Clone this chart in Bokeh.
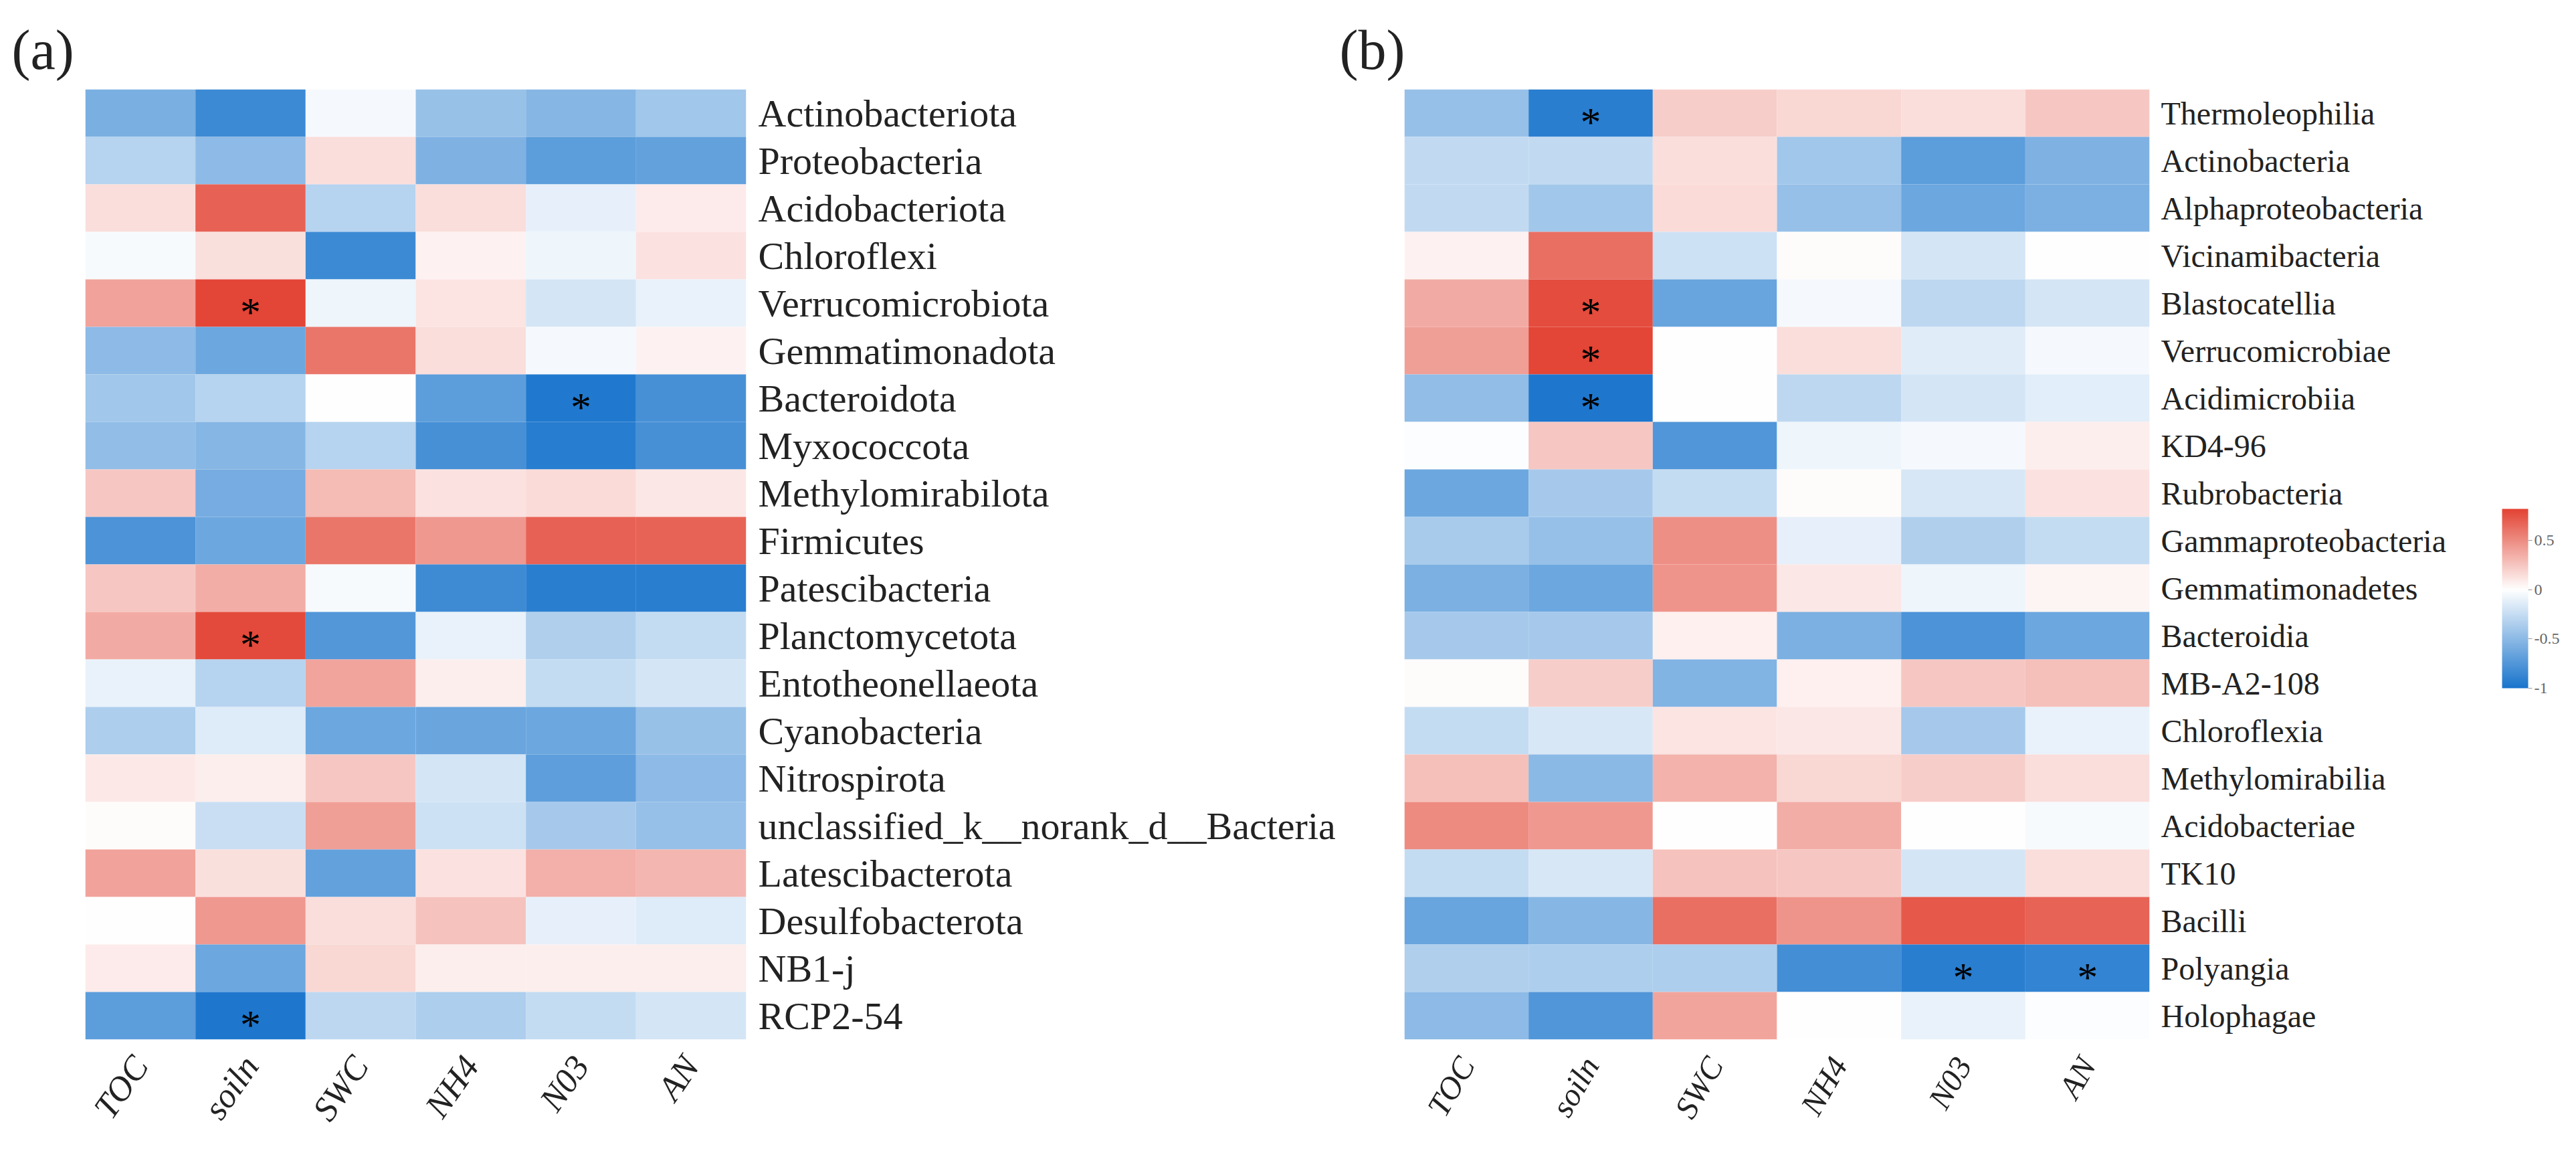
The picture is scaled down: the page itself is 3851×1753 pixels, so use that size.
import math
from bokeh.plotting import figure
from bokeh.models import (LinearColorMapper, ColorBar, FixedTicker, CustomJSTickFormatter,
                          ColumnDataSource, FactorRange)
from bokeh.layouts import row
from bokeh.embed import file_html
from bokeh.resources import INLINE
from bokeh.core.properties import value

# ---------------- data ----------------
cols = ["TOC", "soiln", "SWC", "NH4", "N03", "AN"]

rows_a = ["Actinobacteriota", "Proteobacteria", "Acidobacteriota", "Chloroflexi",
          "Verrucomicrobiota", "Gemmatimonadota", "Bacteroidota", "Myxococcota",
          "Methylomirabilota", "Firmicutes", "Patescibacteria", "Planctomycetota",
          "Entotheonellaeota", "Cyanobacteria", "Nitrospirota",
          "unclassified_k__norank_d__Bacteria", "Latescibacterota", "Desulfobacterota",
          "NB1-j", "RCP2-54"]

a_TOC = [-0.58, -0.32, 0.15, -0.04, 0.40, -0.50, -0.41, -0.48, 0.24, -0.77,
         0.25, 0.36, -0.10, -0.36, 0.09, 0.01, 0.40, 0.00, 0.08, -0.71]
a_soiln = [-0.85, -0.50, 0.68, 0.13, 0.80, -0.64, -0.31, -0.53, -0.60, -0.64,
           0.35, 0.78, -0.31, -0.15, 0.07, -0.24, 0.13, 0.44, -0.64, -0.98]
a_SWC = [-0.05, 0.14, -0.32, -0.85, -0.07, 0.59, 0.00, -0.31, 0.29, 0.59,
         -0.04, -0.75, 0.39, -0.64, 0.24, 0.41, -0.67, 0.14, 0.17, -0.29]
a_NH4 = [-0.45, -0.56, 0.15, 0.05, 0.11, 0.14, -0.71, -0.79, 0.12, 0.44,
         -0.84, -0.10, 0.07, -0.65, -0.19, -0.22, 0.12, 0.26, 0.07, -0.36]
a_N03 = [-0.53, -0.71, -0.11, -0.08, -0.19, -0.05, -0.97, -0.93, 0.16, 0.68,
         -0.92, -0.34, -0.26, -0.64, -0.70, -0.39, 0.34, -0.11, 0.07, -0.26]
a_AN = [-0.41, -0.67, 0.08, 0.12, -0.10, 0.05, -0.79, -0.79, 0.10, 0.67,
        -0.92, -0.26, -0.19, -0.45, -0.50, -0.46, 0.31, -0.15, 0.07, -0.19]

star_a_rows = ["Verrucomicrobiota", "Bacteroidota", "Planctomycetota", "RCP2-54"]
star_a_cols = ["soiln", "N03", "soiln", "soiln"]

rows_b = ["Thermoleophilia", "Actinobacteria", "Alphaproteobacteria", "Vicinamibacteria",
          "Blastocatellia", "Verrucomicrobiae", "Acidimicrobiia", "KD4-96", "Rubrobacteria",
          "Gammaproteobacteria", "Gemmatimonadetes", "Bacteroidia", "MB-A2-108",
          "Chloroflexia", "Methylomirabilia", "Acidobacteriae", "TK10", "Bacilli",
          "Polyangia", "Holophagae"]

b_TOC = [-0.46, -0.27, -0.27, 0.05, 0.36, 0.41, -0.48, -0.02, -0.64, -0.38,
         -0.57, -0.39, 0.01, -0.26, 0.27, 0.50, -0.26, -0.66, -0.34, -0.50]
b_soiln = [-0.92, -0.27, -0.41, 0.62, 0.77, 0.80, -0.98, 0.25, -0.39, -0.46,
           -0.64, -0.39, 0.21, -0.17, -0.51, 0.44, -0.17, -0.53, -0.36, -0.76]
b_SWC = [0.21, 0.15, 0.16, -0.22, -0.66, -0.01, 0.00, -0.76, -0.26, 0.48,
         0.46, 0.06, -0.55, 0.11, 0.33, 0.00, 0.26, 0.62, -0.36, 0.39]
b_NH4 = [0.17, -0.41, -0.46, 0.01, -0.05, 0.15, -0.29, -0.07, 0.01, -0.11,
         0.10, -0.57, 0.06, 0.10, 0.17, 0.35, 0.24, 0.46, -0.82, 0.00]
b_N03 = [0.15, -0.71, -0.64, -0.19, -0.29, -0.14, -0.19, -0.05, -0.17, -0.34,
         -0.08, -0.78, 0.24, -0.39, 0.21, 0.00, -0.19, 0.72, -0.92, -0.10]
b_AN = [0.24, -0.56, -0.57, -0.01, -0.19, -0.05, -0.13, 0.07, 0.12, -0.26,
        0.04, -0.64, 0.27, -0.10, 0.15, -0.04, 0.15, 0.67, -0.89, -0.02]

star_b_rows = ["Thermoleophilia", "Blastocatellia", "Verrucomicrobiae", "Acidimicrobiia",
               "Polyangia", "Polyangia"]
star_b_cols = ["soiln", "soiln", "soiln", "soiln", "N03", "AN"]

cb_ticks = [-1, -0.5, 0, 0.5]
cb_low, cb_high = -1.0, 0.82

# ---------------- colours ----------------
BLUE = (24, 116, 204)
RED = (226, 66, 50)


def make_palette(n=182):
    pal = []
    for i in range(n):
        v = cb_low + (cb_high - cb_low) * (i + 0.5) / n
        if v < 0:
            t, c = min(1.0, -v / abs(cb_low)), BLUE
        else:
            t, c = min(1.0, v / cb_high), RED
        rgb = tuple(int(round(255 + (ci - 255) * t)) for ci in c)
        pal.append("#%02x%02x%02x" % rgb)
    return pal


mapper = LinearColorMapper(palette=make_palette(), low=cb_low, high=cb_high)

SERIF = "Liberation Serif"
H = 1737
TOP = 133
FRAME_H = 1420


def heat(rows, columns, star_rows, star_cols, title, width, left, frame_w,
         title_offset, ylab_fs, ylab_standoff, xlab_fs, angle):
    p = figure(width=width, height=H,
               x_range=FactorRange(*cols), y_range=FactorRange(*rows[::-1]),
               output_backend="svg", toolbar_location=None,
               x_axis_location="below", y_axis_location="right",
               min_border_left=left, min_border_right=width - left - frame_w,
               min_border_top=TOP, min_border_bottom=H - TOP - FRAME_H,
               title=title)
    xs, ys, vs = [], [], []
    for c, colvals in zip(cols, columns):
        for r, v in zip(rows, colvals):
            xs.append(c)
            ys.append(r)
            vs.append(v)
    src = ColumnDataSource(dict(x=xs, y=ys, v=vs))
    p.rect(x="x", y="y", width=1, height=1, source=src,
           fill_color={"field": "v", "transform": mapper}, line_color=None)
    p.text(x=star_cols, y=star_rows, text=["*"] * len(star_rows),
           text_font=value(SERIF), text_font_size="62px", text_color="#000000",
           text_align="center", text_baseline="middle", y_offset=13)

    p.grid.visible = False
    p.outline_line_color = None
    p.background_fill_color = "white"
    p.border_fill_color = "white"

    for ax in (p.xaxis[0], p.yaxis[0]):
        ax.axis_line_color = None
        ax.major_tick_line_color = None
        ax.minor_tick_line_color = None
        ax.major_tick_in = 0
        ax.major_tick_out = 0
        ax.major_label_text_font = SERIF
        ax.major_label_text_color = "#222222"
    p.yaxis.major_label_text_font_size = "%dpx" % ylab_fs
    p.yaxis.major_label_standoff = ylab_standoff
    p.xaxis.major_label_text_font_size = "%dpx" % xlab_fs
    p.xaxis.major_label_text_font_style = "italic"
    p.xaxis.major_label_orientation = math.radians(angle)
    p.xaxis.major_label_standoff = 30

    p.title.text_font = SERIF
    p.title.text_font_size = "84px"
    p.title.text_font_style = "normal"
    p.title.text_color = "#222222"
    p.title.align = "left"
    p.title.offset = title_offset
    p.title.standoff = 26
    return p


pa = heat(rows_a, [a_TOC, a_soiln, a_SWC, a_NH4, a_N03, a_AN], star_a_rows, star_a_cols,
          "(a)", width=2000, left=127, frame_w=988, title_offset=-110,
          ylab_fs=58, ylab_standoff=18, xlab_fs=52, angle=55)
pb = heat(rows_b, [b_TOC, b_soiln, b_SWC, b_NH4, b_N03, b_AN], star_b_rows, star_b_cols,
          "(b)", width=1692, left=99, frame_w=1114, title_offset=-97,
          ylab_fs=48, ylab_standoff=17, xlab_fs=48, angle=60)

pc = figure(width=143, height=H, output_backend="svg", toolbar_location=None,
            min_border=0, x_axis_location=None, y_axis_location=None)
pc.grid.visible = False
pc.outline_line_color = None
cb = ColorBar(color_mapper=mapper, location=(48, 525), width=39, height=268,
              padding=0, margin=0,
              ticker=FixedTicker(ticks=cb_ticks),
              formatter=CustomJSTickFormatter(code="return tick.toString()"),
              major_tick_in=0, major_tick_out=6, major_tick_line_color="#999999",
              minor_tick_line_color=None,
              major_label_text_font=SERIF, major_label_text_font_size="24px",
              major_label_text_color="#666666", label_standoff=3,
              bar_line_color=None, background_fill_color=None, border_line_color=None)
pc.add_layout(cb, "center")

layout = row(pa, pb, pc)
open("out.html", "w").write(file_html(layout, INLINE))
